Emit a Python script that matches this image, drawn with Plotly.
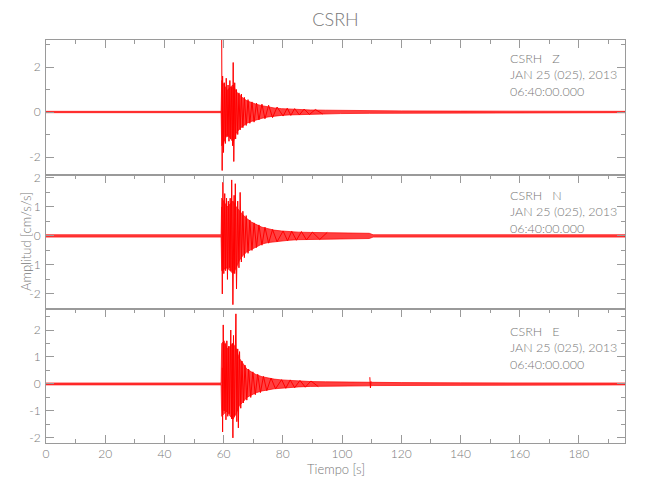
import plotly.graph_objects as go

# ---------------- data ----------------
# Envelope of each trace (upper / lower bound of the dense waveform), seconds
env_t = [0, 59.15, 59.35, 60.17, 61.2, 62.2, 63.2, 64.26, 65.3, 66.3, 67.84, 69.37, 70.9, 72.95,
         75.0, 77.04, 79.6, 82.1, 85.2, 89.3, 94.4, 99.5, 109.2, 110.5, 120, 140, 160, 180, 195.6]

Z_up = [0.03, 0.03, 1.4, 1.2, 0.95, 1.1, 1.2, 0.9, 0.75, 0.65, 0.5, 0.42, 0.35, 0.28, 0.22, 0.18,
        0.15, 0.13, 0.11, 0.09, 0.08, 0.07, 0.06, 0.06, 0.05, 0.04, 0.04, 0.03, 0.03]
Z_lo = [-0.03, -0.03, -1.5, -1.3, -1.0, -1.15, -1.35, -0.95, -0.75, -0.65, -0.5, -0.42, -0.35, -0.28,
        -0.22, -0.18, -0.15, -0.13, -0.11, -0.09, -0.08, -0.07, -0.06, -0.06, -0.05, -0.04, -0.04, -0.03, -0.03]

N_up = [0.04, 0.04, 1.3, 1.15, 1.0, 1.1, 1.2, 1.0, 0.85, 0.75, 0.6, 0.48, 0.4, 0.3, 0.25, 0.2,
        0.17, 0.15, 0.13, 0.12, 0.11, 0.1, 0.09, 0.04, 0.04, 0.04, 0.04, 0.04, 0.04]
N_lo = [-0.04, -0.04, -1.2, -1.15, -1.1, -1.2, -1.3, -1.1, -0.85, -0.7, -0.55, -0.45, -0.38, -0.28,
        -0.23, -0.2, -0.17, -0.15, -0.13, -0.12, -0.11, -0.1, -0.09, -0.04, -0.04, -0.04, -0.04, -0.04, -0.04]

E_up = [0.035, 0.035, 1.5, 1.6, 1.3, 1.4, 1.5, 1.3, 0.95, 0.8, 0.55, 0.45, 0.35, 0.27, 0.22, 0.18,
        0.15, 0.13, 0.11, 0.09, 0.08, 0.07, 0.07, 0.06, 0.05, 0.04, 0.04, 0.035, 0.035]
E_lo = [-0.035, -0.035, -1.2, -1.1, -1.0, -1.2, -1.3, -1.1, -0.8, -0.7, -0.5, -0.42, -0.33, -0.26,
        -0.22, -0.18, -0.15, -0.13, -0.11, -0.09, -0.08, -0.07, -0.07, -0.06, -0.05, -0.04, -0.04, -0.035, -0.035]

# Individual peaks (signed) of the strong-motion part and its coda
Z_spk_t = [59.36, 59.51, 59.66, 59.97, 60.28, 60.58, 60.89, 61.2, 61.5, 61.81, 62.11, 62.42, 62.73,
           63.03, 63.24, 63.44, 63.75, 64.06, 64.36, 64.77, 65.18, 65.59, 66.0, 66.51, 67.02, 67.63,
           68.25, 68.86, 69.58, 70.29, 71.11, 71.93, 72.95, 73.97, 75.2, 76.53, 78.06, 80.1,
           81.5, 82.7, 84.0, 85.6, 87.2, 89.0, 91.0, 93.5]
Z_spk_v = [3.2, -2.6, 1.6, -1.8, 1.3, -1.4, 1.5, -1.1, 1.2, -1.3, 1.4, -1.2, 1.1, -1.5,
           2.2, -2.2, 1.3, -1.2, 1.0, -1.0, 0.85, -0.8, 0.8, -0.7, 0.65, -0.6, 0.55, -0.5,
           0.45, -0.45, 0.4, -0.35, 0.35, -0.3, 0.3, -0.25, 0.22, -0.18,
           0.17, -0.15, 0.15, -0.13, 0.13, -0.11, 0.11, -0.09]

N_spk_t = [59.36, 59.56, 59.76, 60.07, 60.38, 60.68, 60.99, 61.3, 61.6, 61.91, 62.22, 62.47, 62.73,
           63.14, 63.55, 63.75, 63.95, 64.36, 64.77, 65.18, 65.59, 66.0, 66.51, 67.02, 67.63, 68.25,
           68.86, 69.58, 70.29, 71.11, 71.93, 72.95, 73.97, 75.2, 76.53, 78.06, 80.1,
           81.6, 83.0, 84.6, 86.3, 88.0, 90.0, 92.5, 95.0]
N_spk_v = [1.0, -2.0, 1.85, -1.3, 1.46, -1.2, 1.3, -1.5, 1.2, -1.1, 1.3, -1.2, 1.93, -2.37,
           1.4, -1.3, 1.8, -1.83, 1.2, -1.1, 1.5, -0.9, 0.85, -0.75, 0.7, -0.6, 0.55, -0.5,
           0.45, -0.4, 0.38, -0.32, 0.3, -0.25, 0.22, -0.2, 0.17,
           -0.17, 0.16, -0.15, 0.15, -0.14, 0.13, -0.12, 0.12]

E_spk_t = [59.56, 59.66, 59.87, 60.17, 60.48, 60.79, 61.09, 61.4, 61.71, 62.01, 62.42, 62.73, 62.93,
           63.14, 63.34, 63.65, 64.16, 64.47, 64.77, 64.98, 65.39, 65.79, 66.2, 66.71, 67.22, 67.84,
           68.45, 69.17, 69.88, 70.7, 71.52, 72.44, 73.46, 74.58, 76.01, 77.55, 79.59,
           81.0, 82.5, 84.0, 85.8, 87.6, 89.5, 92.0]
E_spk_v = [0.6, -1.78, 2.19, -1.0, 1.5, -1.33, 1.6, -1.2, 1.4, -1.1, 2.0, -1.3, 1.5, -2.0,
           1.8, -1.2, 2.6, -1.4, 1.3, -1.63, 1.2, -0.9, 0.85, -0.7, 0.7, -0.6, 0.55, -0.5,
           0.45, -0.4, 0.36, -0.32, 0.28, -0.25, 0.22, -0.18, 0.16,
           -0.16, 0.15, -0.14, 0.13, -0.12, 0.11, -0.1]
E_blip_t = [109.4, 109.6, 109.8]
E_blip_v = [0.25, -0.15, 0.1]

station = "CSRH"
components = ["Z", "N", "E"]
date_line = "JAN 25 (025), 2013"
time_line = "06:40:00.000"
x_title = "Tiempo [s]"
y_title = "Amplitud [cm/s/s]"

x_tickvals = [0, 20, 40, 60, 80, 100, 120, 140, 160, 180]
x_ticktext = ["0", "20", "40", "60", "80", "100", "120", "140", "160", "180"]
yZ_tickvals = [-2, 0, 2]
yZ_ticktext = ["-2", "0", "2"]
yN_tickvals = [-2, -1, 0, 1, 2]
yN_ticktext = ["-2", "-1", "0", "1", "2"]
yE_tickvals = [-2, -1, 0, 1, 2]
yE_ticktext = ["-2", "-1", "0", "1", "2"]

# ---------------- figure ----------------
RED = "#ff0000"
GRAY = "#9a9a9a"
TXT = "#787878"
FONT = "Lato"
FW = 300

# the page body has an 8 px margin; the figure is sized to fit the 650x500 window
W, H = 634, 484

fig = go.Figure()

panels = [
    ("x3", "y3", Z_up, Z_lo, Z_spk_t, Z_spk_v),
    ("x2", "y2", N_up, N_lo, N_spk_t, N_spk_v),
    ("x", "y", E_up, E_lo, E_spk_t, E_spk_v),
]
for xa, ya, up, lo, st, sv in panels:
    fig.add_trace(go.Scatter(
        x=env_t + env_t[::-1], y=up + lo[::-1], xaxis=xa, yaxis=ya,
        mode="lines", fill="toself", fillcolor="rgba(255,0,0,0.75)",
        line=dict(color=RED, width=0.7), hoverinfo="skip", showlegend=False))
    fig.add_trace(go.Scatter(
        x=st, y=sv, xaxis=xa, yaxis=ya, mode="lines",
        line=dict(color=RED, width=1), showlegend=False))

fig.add_trace(go.Scatter(x=E_blip_t, y=E_blip_v, xaxis="x", yaxis="y", mode="lines",
                         line=dict(color=RED, width=1), showlegend=False))

# domains (paper fractions) for bottom, middle, top panels
d_bot = [0.0, 0.3325]
d_mid = [0.3325, 0.665]
d_top = [0.665, 1.0]

tfont = dict(family=FONT, size=12, color=TXT, weight=FW)

xbase = dict(range=[0, 195.6], showline=True, linecolor=GRAY, linewidth=1,
             ticks="inside", ticklen=8, tickcolor=GRAY, tickwidth=1,
             tickmode="array", tickvals=x_tickvals, ticktext=x_ticktext,
             showgrid=False, zeroline=False, automargin=False,
             minor=dict(ticks="inside", ticklen=4, tickcolor=GRAY, tickmode="linear",
                        tick0=0, dtick=10, showgrid=False),
             tickfont=tfont)

ybase = dict(showline=True, linecolor=GRAY, linewidth=1, mirror="allticks",
             ticks="inside", ticklen=8, tickcolor=GRAY, tickwidth=1,
             tickmode="array", showgrid=False, zeroline=False, automargin=False,
             tickfont=tfont, ticklabelstandoff=2)

fig.update_layout(
    width=W, height=H,
    paper_bgcolor="white", plot_bgcolor="white",
    margin=dict(l=38, r=17, t=32, b=49, autoexpand=False),
    showlegend=False,
    title=dict(text=station, x=0.5, xref="paper", xanchor="center", y=1 - 12 / H, yanchor="middle",
               font=dict(family=FONT, size=18, color=TXT, weight=FW)),
    xaxis=dict(xbase, anchor="y", mirror="allticks", side="bottom"),
    xaxis2=dict(xbase, anchor="y2", matches="x", side="top", mirror=True, showticklabels=False),
    xaxis3=dict(xbase, anchor="y3", matches="x", side="top", mirror=True, showticklabels=False),
    yaxis=dict(ybase, domain=d_bot, anchor="x", range=[-2.19, 2.78],
               tickvals=yE_tickvals, ticktext=yE_ticktext,
               minor=dict(ticks="inside", ticklen=4, tickcolor=GRAY, tickmode="linear", tick0=0, dtick=0.5)),
    yaxis2=dict(ybase, domain=d_mid, anchor="x2", range=[-2.52, 2.10],
                tickvals=yN_tickvals, ticktext=yN_ticktext,
                minor=dict(ticks="inside", ticklen=4, tickcolor=GRAY, tickmode="linear", tick0=0, dtick=0.5)),
    yaxis3=dict(ybase, domain=d_top, anchor="x3", range=[-2.8, 3.2],
                tickvals=yZ_tickvals, ticktext=yZ_ticktext,
                minor=dict(ticks="inside", ticklen=4, tickcolor=GRAY, tickmode="linear", tick0=0, dtick=1)),
)

# in-panel labels
label_y = [0.9777, 0.6377, 0.3002]
for comp, yy in zip(components, label_y):
    fig.add_annotation(
        text=f"{station}&nbsp;&nbsp;&nbsp;{comp}<br>{date_line}<br>{time_line}",
        xref="paper", yref="paper", x=0.798, y=yy, xanchor="left", yanchor="top",
        align="left", showarrow=False,
        font=dict(family=FONT, size=12.5, color=TXT, weight=FW))

# axis titles
fig.add_annotation(text=x_title, xref="paper", yref="paper", x=0.5, y=-0.064,
                   xanchor="center", yanchor="middle", showarrow=False,
                   font=dict(family=FONT, size=13, color=TXT, weight=FW))
fig.add_annotation(text=y_title, xref="paper", yref="paper", x=-20 / 579, y=0.4988,
                   xanchor="center", yanchor="middle", textangle=-90, showarrow=False,
                   font=dict(family=FONT, size=13, color=TXT, weight=FW))

fig.write_html("out.html")
